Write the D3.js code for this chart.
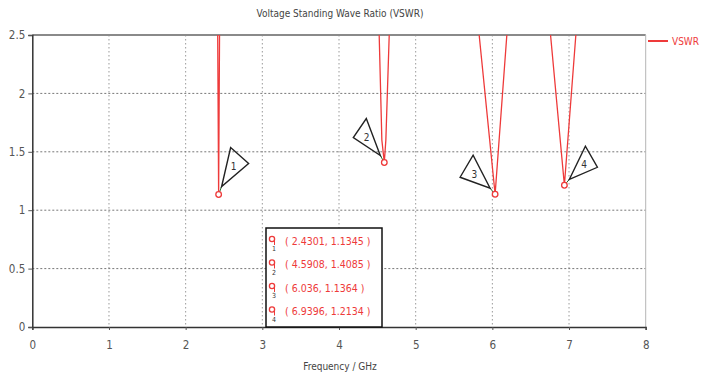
<!DOCTYPE html>
<html><head><meta charset="utf-8">
<script src="https://cdn.jsdelivr.net/npm/d3@7"></script>
<style>
body{margin:0;background:#fff;}
svg{display:block;font-family:"Liberation Sans Narrow","DejaVu Sans Condensed","Liberation Sans",sans-serif;}
</style></head>
<body><svg id="c" width="702" height="376"></svg>
<script>
// ---- data ----
const freqGHz = [0.0, 2.418, 2.4301, 2.442, 3.5, 4.524, 4.559, 4.5908, 4.611, 4.655, 5.3, 5.828, 6.036, 6.189, 6.5, 6.759, 6.9396, 7.089, 8.0];
const vswr    = [12, 2.5, 1.1345, 2.5, 12, 2.5, 1.6, 1.4085, 1.6, 2.5, 12, 2.5, 1.1364, 2.5, 12, 2.5, 1.2134, 2.5, 12];
const markerIds = ["1", "2", "3", "4"];
const markerFreq = [2.4301, 4.5908, 6.036, 6.9396];
const markerVswr = [1.1345, 1.4085, 1.1364, 1.2134];
const xTicks = [0, 1, 2, 3, 4, 5, 6, 7, 8];
const yTicks = [0, 0.5, 1, 1.5, 2, 2.5];
const title = "Voltage Standing Wave Ratio (VSWR)";
const xLabel = "Frequency / GHz";
const seriesName = "VSWR";

// ---- layout ----
const svg = d3.select("#c");
const L = 32.3, R = 645.7, T = 35, B = 327;
const x = d3.scaleLinear().domain([0, 8]).range([L, R]);
const y = d3.scaleLinear().domain([0, 2.5]).range([B, T]);
const red = "#ee3a3a";

// grid
svg.append("g").selectAll("line").data(xTicks.filter(d => d > 0 && d < 8)).join("line")
  .attr("x1", d => x(d)).attr("x2", d => x(d)).attr("y1", T).attr("y2", B)
  .attr("stroke", "#9a9a9a").attr("stroke-width", 1).attr("stroke-dasharray", "1.5,2.5");
svg.append("g").selectAll("line").data(yTicks.filter(d => d > 0 && d < 2.5)).join("line")
  .attr("x1", L).attr("x2", R).attr("y1", d => y(d)).attr("y2", d => y(d))
  .attr("stroke", "#777").attr("stroke-width", 1).attr("stroke-dasharray", "2,2");

// frame
svg.append("line").attr("x1", L).attr("x2", R).attr("y1", T).attr("y2", T).attr("stroke", "#8a8a8a").attr("stroke-width", 2);
svg.append("line").attr("x1", R).attr("x2", R).attr("y1", T).attr("y2", B).attr("stroke", "#b5b5b5").attr("stroke-width", 1);

// axes
const xAxis = d3.axisBottom(x).tickValues(xTicks).tickSize(3).tickFormat(d3.format("d"));
const gx = svg.append("g").attr("transform", `translate(0,${B})`).call(xAxis);
gx.select(".domain").attr("stroke", "#333").attr("stroke-width", 1.5);
gx.selectAll(".tick line").attr("stroke", "#555");
gx.selectAll("text").attr("fill", "#555").attr("font-size", 11.5).attr("dy", "1.4em")
  .attr("font-family", "Liberation Sans Narrow, DejaVu Sans Condensed, sans-serif");

const yAxis = d3.axisLeft(y).tickValues(yTicks).tickSize(4).tickFormat(d => String(d));
const gy = svg.append("g").attr("transform", `translate(${L},0)`).call(yAxis);
gy.select(".domain").attr("stroke", "#333").attr("stroke-width", 1.5);
gy.selectAll(".tick line").attr("stroke", "#555");
gy.selectAll("text").attr("fill", "#555").attr("font-size", 11.5).attr("x", -7)
  .attr("font-family", "Liberation Sans Narrow, DejaVu Sans Condensed, sans-serif");

// title and axis label
svg.append("text").attr("x", 340).attr("y", 17).attr("text-anchor", "middle")
  .attr("font-size", 10).attr("fill", "#444").text(title);
svg.append("text").attr("x", 340).attr("y", 370).attr("text-anchor", "middle")
  .attr("font-size", 10).attr("fill", "#444").text(xLabel);

// series
svg.append("clipPath").attr("id", "clip").append("rect")
  .attr("x", L).attr("y", T).attr("width", R - L).attr("height", B - T);
const pts = freqGHz.map((f, i) => [f, vswr[i]]);
svg.append("path").datum(pts).attr("clip-path", "url(#clip)")
  .attr("fill", "none").attr("stroke", red).attr("stroke-width", 1.3)
  .attr("d", d3.line().x(d => x(d[0])).y(d => y(d[1])));

// legend (series)
svg.append("line").attr("x1", 648).attr("x2", 668).attr("y1", 41).attr("y2", 41).attr("stroke", red).attr("stroke-width", 2);
svg.append("text").attr("x", 672).attr("y", 45).attr("font-size", 10).attr("fill", red).text(seriesName);

// markers
const calloutOffsets = [
  [[3, -8], [12, -47], [30, -31]],
  [[-4, -7], [-31, -25], [-18, -44]],
  [[-5, -6], [-22, -39], [-35, -17]],
  [[5, -6], [21, -39], [33, -18]]
];
markerIds.forEach((id, i) => {
  const mx = x(markerFreq[i]), my = y(markerVswr[i]);
  const off = calloutOffsets[i];
  const tri = off.map(o => [mx + o[0], my + o[1]]);
  svg.append("line").attr("x1", mx).attr("y1", my).attr("x2", tri[0][0]).attr("y2", tri[0][1])
    .attr("stroke", "#2a6a2a").attr("stroke-width", 1);
  svg.append("polygon").attr("points", tri.map(p => p.join(",")).join(" "))
    .attr("fill", "none").attr("stroke", "#222").attr("stroke-width", 1.4).attr("stroke-linejoin", "miter");
  const cx = (tri[0][0] + tri[1][0] + tri[2][0]) / 3, cy = (tri[0][1] + tri[1][1] + tri[2][1]) / 3;
  svg.append("text").attr("x", cx).attr("y", cy + 4).attr("text-anchor", "middle")
    .attr("font-size", 10).attr("fill", "#333").text(id);
  svg.append("circle").attr("cx", mx).attr("cy", my).attr("r", 2.8)
    .attr("fill", "#fff").attr("stroke", red).attr("stroke-width", 1.3);
});

// marker table
const bx = 266, by = 228, bw = 116, bh = B - 228;
svg.append("rect").attr("x", bx).attr("y", by).attr("width", bw).attr("height", bh)
  .attr("fill", "#fff").attr("stroke", "#111").attr("stroke-width", 1.5);
markerIds.forEach((id, i) => {
  const ry = by + 13 + i * 23.5;
  svg.append("circle").attr("cx", bx + 6).attr("cy", ry - 2).attr("r", 2.6)
    .attr("fill", "none").attr("stroke", red).attr("stroke-width", 1.3);
  svg.append("line").attr("x1", bx + 8.5).attr("x2", bx + 8.5).attr("y1", ry - 2).attr("y2", ry + 4)
    .attr("stroke", red).attr("stroke-width", 1);
  svg.append("text").attr("x", bx + 8).attr("y", ry + 10).attr("font-size", 7).attr("fill", "#333")
    .attr("text-anchor", "middle").text(id);
  svg.append("text").attr("x", bx + 19).attr("y", ry + 3.5).attr("font-size", 10.5).attr("fill", red)
    .text(`( ${markerFreq[i]}, ${markerVswr[i]} )`);
});
</script></body></html>
